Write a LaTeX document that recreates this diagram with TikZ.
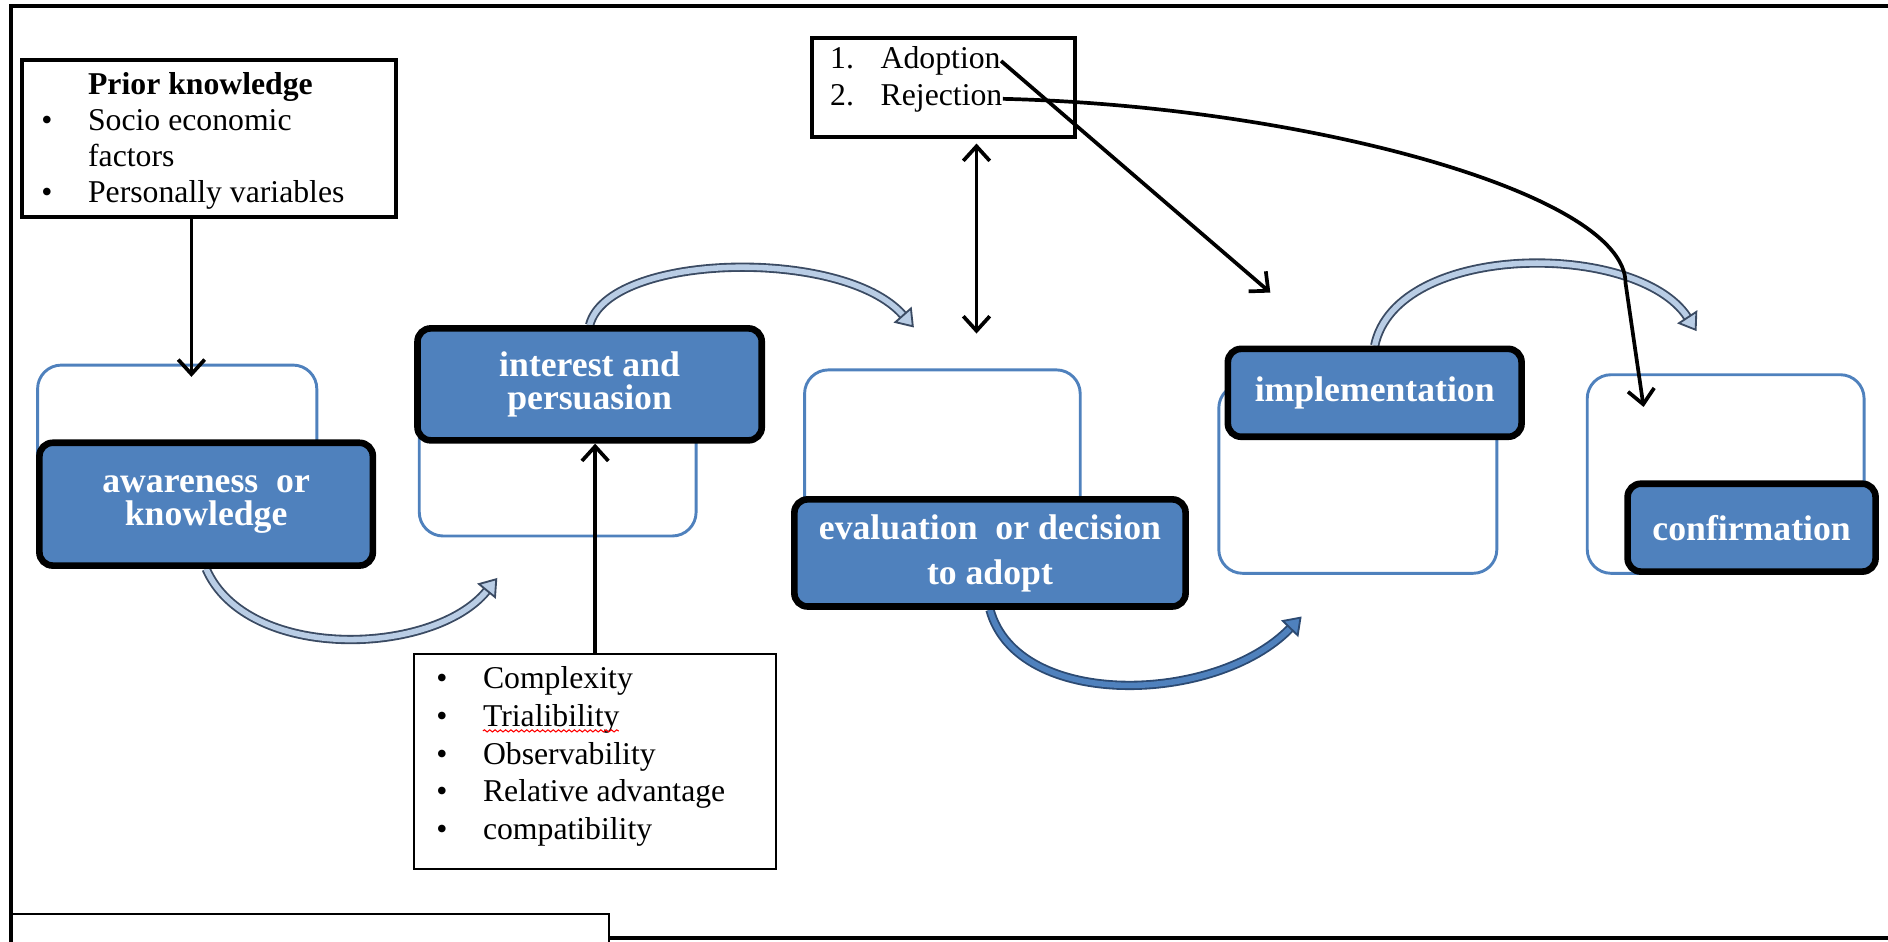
\documentclass[tikz,border=0pt]{standalone}
\usepackage{fontspec}
\setmainfont{Liberation Serif}
\usetikzlibrary{arrows.meta,backgrounds,decorations.pathmorphing}

\definecolor{stageblue}{HTML}{4F81BD}
\definecolor{flowlight}{HTML}{B9CDE5}
\definecolor{flowedge}{HTML}{3B4B63}
\definecolor{flowdarkedge}{HTML}{2C4A72}

\newcommand\itembullet{\makebox[0.62cm][l]{\textbullet}}
\newcommand\itemgap{\makebox[0.62cm][l]{}}

\tikzset{
  stage/.style={rectangle, draw=black, line width=2.5pt, rounded corners=5pt, fill=stageblue, text=white,
    font=\fontsize{13.5}{12.4}\selectfont\bfseries, align=center, anchor=north west},
  stageback/.style={rectangle, draw=stageblue, line width=1.1pt, rounded corners=9pt, anchor=north west},
  listbox/.style={rectangle, draw, line width=1.5pt, anchor=north west},
  listtext/.style={font=\fontsize{12}{13.6}\selectfont, align=left, inner sep=0pt},
  conn/.style={line width=1.4pt, -{Straight Barb[length=5.5pt, width=10pt]}},
  connboth/.style={line width=1.4pt, {Straight Barb[length=5.5pt, width=10pt]}-{Straight Barb[length=5.5pt, width=10pt]}},
  flow/.style={line width=0.7pt, draw=flowedge, double=flowlight, double distance=2.1pt,
    -{Triangle[length=6.5pt, width=9pt, fill=flowlight]}},
  flowdark/.style={flow, draw=flowdarkedge, double=stageblue, -{Triangle[length=6.5pt, width=9pt, fill=stageblue]}},
  spelling/.style={red, line width=0.4pt, decorate, decoration={snake, amplitude=0.4pt, segment length=2pt}},
}

\begin{document}
\begin{tikzpicture}[x=0.016cm, y=-0.016cm]
\useasboundingbox (0,0) rectangle (1568,782);

% frame
\draw[line width=1.5pt] (1568,5) -- (9,5) -- (9,782);
\draw[line width=1.5pt] (506,779) -- (1568,779);
\draw[line width=0.75pt, fill=white] (9,759) -| (506,782);

% stages, back boxes
\node[stageback, minimum width=3.712cm, minimum height=2.64cm] (awareBack) at (30,302) {};
\node[stageback, minimum width=3.68cm, minimum height=2.304cm] (interestBack) at (347,300) {};
\node[stageback, minimum width=3.664cm, minimum height=2.944cm] (evalBack) at (667,306) {};
\node[stageback, minimum width=3.696cm, minimum height=2.512cm] (implBack) at (1011,318) {};
\node[stageback, minimum width=3.68cm, minimum height=2.64cm] (confBack) at (1317,310) {};

% stages, labels
\node[stage, minimum width=4.432cm, minimum height=1.632cm] (aware) at (30,365) {awareness\ \ or\\knowledge};
\node[stage, minimum width=4.576cm, minimum height=1.488cm] (interest) at (344,270) {interest and\\persuasion};
\node[stage, minimum width=5.2cm, minimum height=1.424cm, font=\fontsize{13.5}{17}\selectfont\bfseries] (eval) at (657,412) {evaluation\ \ or decision\\to adopt};
\node[stage, minimum width=3.904cm, minimum height=1.168cm] (impl) at (1017,287) {implementation};
\node[stage, minimum width=3.296cm, minimum height=1.168cm] (conf) at (1349,399) {confirmation};

% curved flow arrows between stages
\coordinate (interestIn) at (413,480);
\coordinate (evalIn) at (759,272);
\coordinate (implIn) at (1081,512);
\coordinate (confIn) at (1409,275);
\begin{scope}[on background layer]
  \draw[flow] (aware.south) .. controls (205,550) and (360,545) .. (interestIn);
  \draw[flow] (interest.north) .. controls (505,210) and (700,205) .. (evalIn);
  \draw[flowdark] (eval.south) .. controls (845,590) and (1010,585) .. (implIn);
  \draw[flow] (impl.north) .. controls (1160,200) and (1360,200) .. (confIn);
\end{scope}

% prior knowledge
\node[listbox, minimum width=4.96cm, minimum height=2.096cm] (prior) at (17,48) {};
\node[listtext, anchor=north west] (priortext) at (34,60) {\itemgap\textbf{Prior knowledge}\\
  \itembullet Socio economic\\ \itemgap factors\\ \itembullet Personally variables};

% attributes
\node[listbox, line width=0.75pt, minimum width=4.816cm, minimum height=2.864cm] (factors) at (343,542) {};
\node[listtext, font=\fontsize{12}{14.3}\selectfont, anchor=north west] (factortext) at (362,553) {\itembullet Complexity\\
  \itembullet Trialibility\\ \itembullet Observability\\ \itembullet Relative advantage\\ \itembullet compatibility};
\draw[spelling] (401,607) -- (514,607);

% decision
\node[listbox, minimum width=3.488cm, minimum height=1.312cm] (decision) at (673,30) {};
\node[listtext, anchor=base west] (adopt) at (689,57) {\makebox[0.672cm][l]{1.}Adoption};
\node[listtext, anchor=base west] (reject) at (689,88) {\makebox[0.672cm][l]{2.}Rejection};

% connectors
\coordinate (awareTop) at (159,313);
\coordinate (evalTop) at (811,277);
\coordinate (implTop) at (1055,243);
\coordinate (confTop) at (1365,338);
\draw[conn] (prior.south -| awareTop) -- (awareTop);
\draw[conn] (factors.north) -- (factors.north |- interest.south);
\draw[connboth, shorten <=1.8pt] (decision.south -| evalTop) -- (evalTop);
\draw[conn] (adopt.east) -- (implTop);
\draw[conn] (reject.east) .. controls (1080,88) and (1350,160) .. (1350,235) -- (confTop);
\end{tikzpicture}
\end{document}
